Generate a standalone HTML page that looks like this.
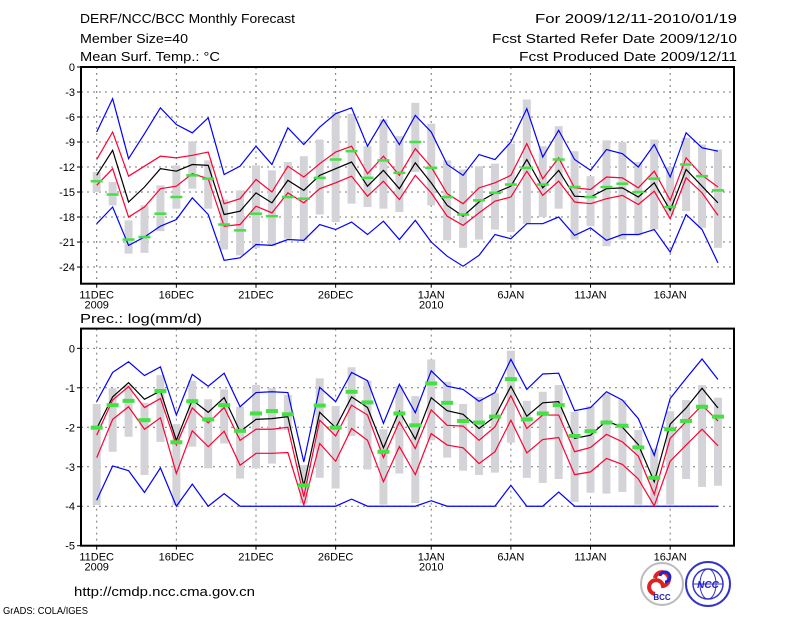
<!DOCTYPE html>
<html><head><meta charset="utf-8"><style>
body{margin:0;background:#fff;}
svg{display:block;font-family:"Liberation Sans",sans-serif;}
</style></head><body>
<svg id="chart" width="800" height="618" viewBox="0 0 800 618">
<rect width="800" height="618" fill="#fff"/>
<g font-size="13" fill="#000">
<text x="80" y="23" textLength="215" lengthAdjust="spacingAndGlyphs">DERF/NCC/BCC Monthly Forecast</text>
<text x="80" y="43" textLength="108" lengthAdjust="spacingAndGlyphs">Member Size=40</text>
<text x="80" y="61" textLength="140" lengthAdjust="spacingAndGlyphs">Mean Surf. Temp.: °C</text>
<text x="535" y="23" textLength="202" lengthAdjust="spacingAndGlyphs">For 2009/12/11-2010/01/19</text>
<text x="492" y="43" textLength="245" lengthAdjust="spacingAndGlyphs">Fcst Started Refer Date 2009/12/10</text>
<text x="519" y="61" textLength="218" lengthAdjust="spacingAndGlyphs">Fcst Produced Date 2009/12/11</text>
<text x="80" y="323" textLength="122" lengthAdjust="spacingAndGlyphs">Prec.: log(mm/d)</text>
<text x="74" y="596" textLength="181" lengthAdjust="spacingAndGlyphs">http://cmdp.ncc.cma.gov.cn</text>
<text x="3" y="614" font-size="10" textLength="85" lengthAdjust="spacingAndGlyphs">GrADS: COLA/IGES</text>
</g>
<g>
<circle cx="662" cy="584" r="21" fill="#fff" stroke="#bbb" stroke-width="2"/>
<path d="M655 578 a7 7 0 1 1 8 8 a7 7 0 1 0 -8 8" fill="none" stroke="#d22" stroke-width="4"/>
<path d="M660 576 a5 5 0 1 1 5 6" fill="none" stroke="#22c" stroke-width="3"/>
<text x="662" y="600" font-size="8" text-anchor="middle" font-weight="bold" fill="#22a">BCC</text>
</g>
<g>
<circle cx="708" cy="584" r="22" fill="#fff" stroke="#33c" stroke-width="2"/>
<circle cx="708" cy="584" r="15" fill="none" stroke="#33c" stroke-width="1.5"/>
<ellipse cx="708" cy="584" rx="8" ry="15" fill="none" stroke="#33c" stroke-width="1"/>
<line x1="693" y1="584" x2="723" y2="584" stroke="#33c"/>
<text x="708" y="588" font-size="10" text-anchor="middle" font-weight="bold" font-style="italic" fill="#22c">NCC</text>
</g>
<g id="top"></g>
<g id="bot"></g>
</svg>
<script>
const days=['11DEC','16DEC','21DEC','26DEC','1JAN','6JAN','11JAN','16JAN'];
const tickDays=[0,5,10,15,21,26,31,36];
const tMax=[-7.8,-3.8,-11,-8,-4.9,-6.9,-7.9,-6.1,-12.9,-11.9,-9.5,-11.7,-7.3,-9.3,-7.2,-5.6,-4.9,-9.5,-6.3,-9.3,-5.8,-7.8,-11.7,-13,-10.5,-11.1,-9,-5,-10.8,-7.6,-11.1,-12.4,-9.9,-10.4,-12,-9.3,-13.2,-7.9,-9.7,-10.1];
const tUp=[-11.1,-7.8,-13.1,-11.9,-10.7,-10.9,-10.6,-10.2,-16.4,-15.8,-13.5,-15,-11.9,-13.2,-11.6,-10.2,-9.5,-12.8,-10.7,-13,-9.8,-12,-15.2,-16.4,-14.5,-13.9,-13,-9.2,-13.4,-10.9,-14.5,-14.7,-13.2,-13.3,-14.5,-12.5,-16,-10.9,-13,-14.4];
const tMean=[-13,-10,-16.2,-14.4,-12.2,-12.5,-11.7,-11.8,-17.7,-17.3,-15.1,-16.3,-13.6,-14.8,-13,-12.2,-11.4,-14.3,-12.4,-14.6,-11.5,-13.9,-16.6,-17.9,-16.2,-15.1,-14.3,-11.1,-14.5,-12.4,-15.5,-15.6,-14.6,-14.5,-15.6,-13.9,-17.2,-12.3,-14.3,-16.3];
const tLow=[-14.2,-12.2,-18,-16.8,-14.6,-14.3,-12.8,-13.4,-19.1,-18.9,-16.7,-17.5,-15.1,-16.3,-14.6,-13.9,-13.1,-15.5,-13.7,-15.9,-13,-15.1,-17.9,-19,-17.5,-16.1,-15.6,-12.5,-15.4,-13.7,-16.2,-16.4,-15.8,-15.4,-16.5,-14.9,-18.2,-13.3,-15.1,-17.8];
const tMin=[-18.8,-16.8,-21.4,-20.4,-19.1,-18.3,-15.7,-17.7,-23.2,-22.9,-21.3,-21.4,-20.7,-20.8,-18.9,-19.5,-18.6,-20.1,-18.5,-20.7,-18.4,-21,-22.7,-23.9,-22.6,-20.1,-20.6,-18.8,-18.8,-18,-20.2,-19.3,-20.8,-20.1,-20.1,-19.5,-22.2,-17.7,-19.5,-23.5];
const tObs=[-13.7,-15.3,-20.7,-20.4,-17.6,-15.6,-13,-13.4,-18.9,-19.6,-17.6,-17.9,-15.6,-15.8,-13.3,-11.1,-10.1,-13.3,-11.2,-12.7,-9,-12.1,-15.6,-17.7,-16,-15.1,-14.1,-12.1,-14.1,-11.1,-14.4,-15.6,-14.4,-14,-15,-13.4,-16.8,-11.7,-13.1,-14.8];
const tBarHi=[-12.6,-13.8,-18.4,-16.6,-14.2,-11.8,-8.9,-11.2,-15.9,-14.8,-11.8,-12.4,-11.4,-10.7,-8.7,-5.4,-5.6,-9.5,-6.3,-8.3,-4.3,-6.8,-11.2,-12.3,-11.9,-11.6,-9.2,-3.9,-9.5,-7.1,-10.1,-13.1,-8.8,-9,-11.4,-8.7,-12,-8.5,-9.3,-9.9];
const tBarLo=[-15,-16.6,-22.4,-22.3,-19.7,-17,-14.6,-17,-21.9,-22.6,-21.7,-21.5,-20.6,-20.8,-17.7,-18.6,-16.4,-16.8,-17,-17.4,-12.6,-16.6,-20.8,-21.7,-20.7,-19.5,-19.8,-18.8,-18,-17,-20.7,-19.1,-21.5,-20.7,-20.2,-19.5,-17.8,-17.3,-19.3,-21.7];
const pMax=[-1.35,-0.61,-0.34,-0.69,-0.47,-1.69,-0.66,-0.96,-0.63,-1.48,-1.12,-1.1,-1.12,-2.88,-0.99,-1.35,-0.61,-0.82,-1.9,-0.91,-1.63,-0.57,-0.96,-1.04,-1.34,-1.12,-0.28,-1.04,-0.65,-0.63,-1.58,-1.5,-1.1,-1.31,-1.78,-2.71,-1.27,-0.76,-0.27,-0.79];
const pUp=[-2.2,-1.31,-0.97,-1.5,-1.27,-2.45,-1.51,-1.89,-1.5,-2.33,-2.05,-2.05,-2,-3.76,-1.82,-2.22,-1.44,-1.69,-2.77,-1.86,-2.54,-1.56,-1.95,-1.97,-2.33,-1.99,-1.2,-2.03,-1.69,-1.69,-2.62,-2.51,-2.18,-2.37,-2.73,-3.7,-2.28,-1.86,-1.44,-1.84];
const pMean=[-2.03,-1.23,-0.87,-1.29,-1.08,-2.33,-1.31,-1.62,-1.25,-2.11,-1.8,-1.78,-1.73,-3.48,-1.62,-2.01,-1.23,-1.5,-2.52,-1.59,-2.3,-1.25,-1.58,-1.67,-2.03,-1.73,-0.96,-1.72,-1.38,-1.35,-2.28,-2.2,-1.84,-2,-2.44,-3.38,-1.92,-1.51,-1.01,-1.51];
const pLow=[-2.77,-1.8,-1.48,-2.05,-1.76,-3.17,-2.09,-2.49,-2.1,-2.96,-2.66,-2.66,-2.64,-3.97,-2.41,-2.86,-2.03,-2.33,-3.38,-2.49,-3.2,-2.16,-2.45,-2.52,-2.92,-2.62,-1.82,-2.65,-2.31,-2.26,-3.2,-3.13,-2.79,-2.94,-3.31,-3.99,-2.86,-2.45,-2.05,-2.47];
const pMin=[-3.85,-2.98,-3.1,-3.65,-3.03,-4,-3.44,-4,-3.68,-4,-4,-4,-4,-4,-4,-4,-3.82,-4,-4,-4,-4,-3.86,-4,-4,-4,-4,-3.47,-4,-4,-3.64,-4,-4,-4,-4,-4,-4,-4,-4,-4,-4];
const pObs=[-2.01,-1.44,-1.33,-1.82,-1.08,-2.38,-1.34,-1.8,-1.44,-2.09,-1.65,-1.59,-1.67,-3.47,-1.45,-2.01,-1.1,-1.37,-2.62,-1.65,-1.95,-0.89,-1.38,-1.84,-1.88,-1.73,-0.78,-1.8,-1.65,-1.44,-2.22,-2.1,-1.88,-1.96,-2.51,-3.28,-2.05,-1.84,-1.48,-1.73];
const pBarHi=[-1.41,-1.01,-0.93,-1.38,-0.68,-1.92,-0.82,-1.29,-1.04,-1.48,-0.93,-1.01,-1.18,-2.96,-0.76,-1.46,-0.48,-0.82,-2.05,-0.96,-1.21,-0.28,-0.85,-1.41,-1.23,-1.14,-0.06,-1.33,-1.1,-0.93,-1.61,-1.46,-1.14,-1.31,-2.07,-2.54,-1.59,-1.31,-0.93,-1.25];
const pBarLo=[-3.97,-2.62,-2.24,-3.21,-2.37,-3.97,-2.49,-3.04,-2.41,-3.3,-3.04,-2.92,-2.07,-3.93,-3.28,-3.55,-2.22,-3.07,-3.96,-3.17,-3.92,-2.33,-2.77,-3.1,-3.21,-3.15,-2.39,-3.28,-3.41,-3.31,-3.89,-3.66,-3.68,-3.64,-3.96,-3.96,-3.96,-3.31,-3.51,-3.48];
const tTicks=[0,-3,-6,-9,-12,-15,-18,-21,-24];
const pTicks=[0,-1,-2,-3,-4,-5];

const NS='http://www.w3.org/2000/svg';
const X0=81,X1=734,D0=96.7,DX=15.93;
const xs=i=>D0+i*DX;
function el(p,t,a){const e=document.createElementNS(NS,t);for(const k in a)e.setAttribute(k,a[k]);p.appendChild(e);return e;}
function panel(g,top,bot,vmax,vmin,ticks,bh,bl,mx,up,mean,lo,mn,obs,obsH,pre){
  const ys=v=>top+(vmax-v)/(vmax-vmin)*(bot-top);
  ticks.forEach(t=>{
    const y=ys(t);
    if(y>top+1&&y<bot-1){const l=el(g,'line',{x1:X0,x2:X1,y1:y,y2:y,stroke:'#777','stroke-dasharray':'2,4','stroke-width':1});
    }
    const tk=el(g,'line',{x1:X0-4,x2:X0,y1:y,y2:y,stroke:'#000'});
    
    const tx=el(g,'text',{x:X0-6,y:y+4,'text-anchor':'end','font-size':11});tx.textContent=t;
    
  });
  tickDays.forEach((d,k)=>{
    const x=xs(d);
    const l=el(g,'line',{x1:x,x2:x,y1:top,y2:bot,stroke:'#777','stroke-dasharray':'2,4'});
    
    const tk=el(g,'line',{x1:x,x2:x,y1:bot,y2:bot+4,stroke:'#000'});
    
    const tx=el(g,'text',{x:x,y:bot+15,'text-anchor':'middle','font-size':11});tx.textContent=days[k];
    
    if(k==0||k==4){const yr=el(g,'text',{x:x,y:bot+25,'text-anchor':'middle','font-size':11});yr.textContent=k==0?'2009':'2010';
    }
  });
  bh.forEach((v,i)=>{
    const y1=ys(v),y2=ys(bl[i]);
    const r=el(g,'rect',{x:xs(i)-4,y:y1,width:8,height:y2-y1,fill:'#d4d4d8'});
    
  });
  const line=(arr,c,n)=>{const p=el(g,'polyline',{points:arr.map((v,i)=>xs(i)+','+ys(v)).join(' '),fill:'none',stroke:c,'stroke-width':1.2});
    };
  line(mx,'#0000ff',pre+'max-line');line(mn,'#0000ff',pre+'min-line');
  line(up,'#ff0033',pre+'upper-line');line(lo,'#ff0033',pre+'lower-line');
  line(mean,'#000',pre+'mean-line');
  obs.forEach((v,i)=>{
    const r=el(g,'rect',{x:xs(i)-6,y:ys(v)-obsH/2,width:12,height:obsH,fill:'#44e044'});
    
  });
  const b=el(g,'rect',{x:X0,y:top,width:X1-X0,height:bot-top,fill:'none',stroke:'#000','stroke-width':2});
  
}
panel(document.getElementById('top'),67,283.7,0,-26,tTicks,tBarHi,tBarLo,tMax,tUp,tMean,tLow,tMin,tObs,2.5,'temp-');
panel(document.getElementById('bot'),328.6,545.7,0.5,-5,pTicks,pBarHi,pBarLo,pMax,pUp,pMean,pLow,pMin,pObs,4,'prec-');
</script>
</body></html>
